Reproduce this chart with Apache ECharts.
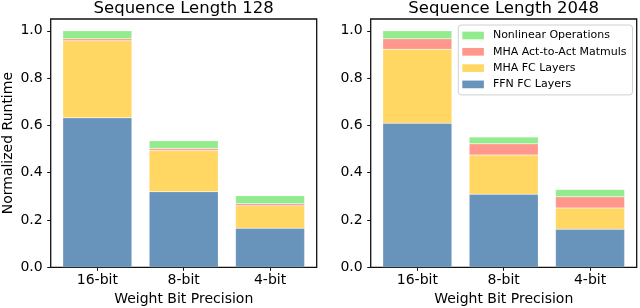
<!DOCTYPE html>
<html>
<head>
<meta charset="utf-8">
<script src="https://cdn.jsdelivr.net/npm/echarts@6/dist/echarts.min.js"></script>
<style>html,body{margin:0;padding:0;background:#fff}#c{width:640px;height:308px}</style>
</head>
<body>
<div id="c"></div>
<script>
const categories = ['16-bit', '8-bit', '4-bit'];
const panelTitles = ['Sequence Length 128', 'Sequence Length 2048'];
const seriesNames = ['FFN FC Layers', 'MHA FC Layers', 'MHA Act-to-Act Matmuls', 'Nonlinear Operations'];
const legendOrder = ['Nonlinear Operations', 'MHA Act-to-Act Matmuls', 'MHA FC Layers', 'FFN FC Layers'];
const yTicks = [0, 0.2, 0.4, 0.6, 0.8, 1.0];
// Sequence length 128
const ffn128 = [0.632, 0.320, 0.165];
const mhaFc128 = [0.326, 0.174, 0.095];
const actAct128 = [0.008, 0.008, 0.009];
const nonlin128 = [0.034, 0.033, 0.034];
// Sequence length 2048
const ffn2048 = [0.609, 0.309, 0.161];
const mhaFc2048 = [0.313, 0.166, 0.090];
const actAct2048 = [0.044, 0.047, 0.047];
const nonlin2048 = [0.034, 0.029, 0.031];

const colors = ['#6894bb', '#ffd762', '#ff978c', '#92ec8e'];
const FONT = 'DejaVu Sans';
const YMAX = 1.05;

const panels = [
  { left: 50.7, right: 316.7, data: [ffn128, mhaFc128, actAct128, nonlin128] },
  { left: 370.7, right: 636.7, data: [ffn2048, mhaFc2048, actAct2048, nonlin2048] }
];
const TOP = 19, BOTTOM = 267.3, W = 640, H = 308;

const grids = [], xAxes = [], yAxes = [], series = [], titles = [];
panels.forEach((p, i) => {
  const width = p.right - p.left;
  const inset = (width - width * 3 / 3.08) / 2;
  // frame grid
  grids.push({ left: p.left, top: TOP, width: width, height: BOTTOM - TOP, show: true,
    borderColor: '#111', borderWidth: 1.3, backgroundColor: 'transparent',
    containLabel: false, outerBoundsMode: 'none' });
  // bars grid
  grids.push({ left: p.left + inset, top: TOP, width: width - 2 * inset, height: BOTTOM - TOP,
    containLabel: false, outerBoundsMode: 'none' });
  xAxes.push({ gridIndex: 2 * i, type: 'category', data: categories, show: false });
  xAxes.push({ gridIndex: 2 * i + 1, type: 'category', data: categories,
    axisLine: { show: false },
    axisTick: { show: true, alignWithLabel: true, length: 3.5, lineStyle: { color: '#111', width: 1 } },
    axisLabel: { fontFamily: FONT, fontSize: 14, color: '#000', margin: 6 },
    name: 'Weight Bit Precision', nameLocation: 'middle', nameGap: 23,
    nameTextStyle: { fontFamily: FONT, fontSize: 14, color: '#000' } });
  yAxes.push({ gridIndex: 2 * i, type: 'value', min: 0, max: YMAX,
    axisLine: { show: false }, splitLine: { show: false },
    axisTick: { show: true, length: 3.5, customValues: yTicks, lineStyle: { color: '#111', width: 1 } },
    axisLabel: { fontFamily: FONT, fontSize: 14, color: '#000', margin: 8, customValues: yTicks,
      formatter: v => v.toFixed(1) },
    name: i === 0 ? 'Normalized Runtime' : '', nameLocation: 'middle', nameGap: 35,
    nameTextStyle: { fontFamily: FONT, fontSize: 14, color: '#000' } });
  yAxes.push({ gridIndex: 2 * i + 1, type: 'value', min: 0, max: YMAX, show: false });
  p.data.forEach((d, k) => {
    series.push({ type: 'bar', name: seriesNames[k], xAxisIndex: 2 * i + 1, yAxisIndex: 2 * i + 1,
      stack: 'p' + i, data: d, barCategoryGap: '20%',
      itemStyle: { color: colors[k], borderColor: 'rgba(255,255,255,0.35)', borderWidth: 0.5 },
      emphasis: { disabled: true }, animation: false });
  });
  titles.push({ text: panelTitles[i], left: (p.left + p.right) / 2, top: 0, textAlign: 'center',
    padding: 0, textStyle: { fontFamily: FONT, fontSize: 16.5, fontWeight: 'normal', color: '#000' } });
});

const chart = echarts.init(document.getElementById('c'), null, { renderer: 'canvas', width: W, height: H });
chart.setOption({
  animation: false,
  title: titles,
  grid: grids,
  xAxis: xAxes,
  yAxis: yAxes,
  legend: {
    data: legendOrder, orient: 'vertical', left: 458.3, top: 25,
    itemWidth: 21.6, itemHeight: 7.7, itemGap: 3.3, icon: 'rect',
    padding: [4, 6, 4, 4], borderColor: '#d0d0d0', borderWidth: 1, borderRadius: 3,
    backgroundColor: 'rgba(255,255,255,0.8)',
    textStyle: { fontFamily: FONT, fontSize: 11, color: '#000', lineHeight: 13, padding: [0, 0, 0, 4] },
    itemStyle: { borderWidth: 0 }
  },
  series: series
});
</script>
</body>
</html>
